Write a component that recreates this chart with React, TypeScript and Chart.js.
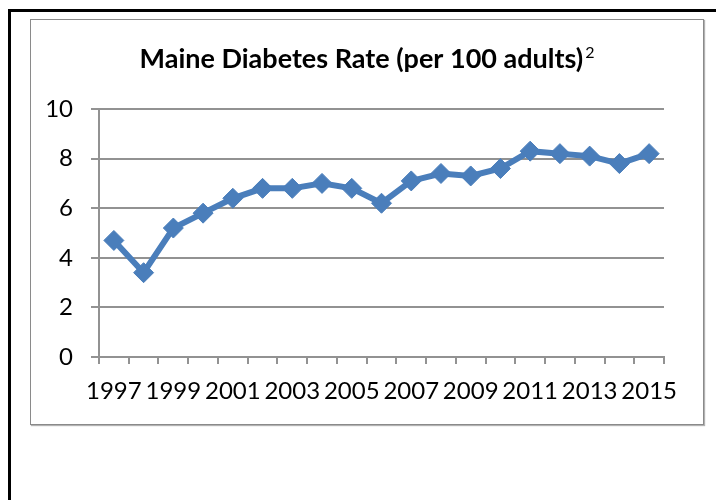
import React, { useEffect, useRef } from "react";
import { Chart, registerables } from "chart.js";

Chart.register(...registerables);

const years: string[] = [
  "1997", "1998", "1999", "2000", "2001", "2002", "2003", "2004", "2005", "2006",
  "2007", "2008", "2009", "2010", "2011", "2012", "2013", "2014", "2015",
];
const diabetesRate: number[] = [
  4.7, 3.4, 5.2, 5.8, 6.4, 6.8, 6.8, 7.0, 6.8, 6.2,
  7.1, 7.4, 7.3, 7.6, 8.3, 8.2, 8.1, 7.8, 8.2,
];
const titleText = "Maine Diabetes Rate (per 100 adults)";
const titleSup = "2";
const yMin = 0;
const yMax = 10;
const yStep = 2;

const FONT = "Lato, 'Open Sans', sans-serif";
const GRID = "#929292";
const BLUE = "#4a7ebb";

const titlePlugin = {
  id: "supTitle",
  afterDraw(chart: any) {
    const ctx = chart.ctx as CanvasRenderingContext2D;
    ctx.save();
    const mainFont = `bold 27px ${FONT}`;
    const supFont = `16px ${FONT}`;
    ctx.font = mainFont;
    const w1 = ctx.measureText(titleText).width;
    ctx.font = supFont;
    const w2 = ctx.measureText(titleSup).width;
    const gap = 2;
    const total = w1 + gap + w2;
    const cx = chart.width / 2;
    const x0 = cx - total / 2;
    const baseline = 48;
    ctx.fillStyle = "#000";
    ctx.textBaseline = "alphabetic";
    ctx.textAlign = "left";
    ctx.font = mainFont;
    ctx.fillText(titleText, x0, baseline);
    ctx.font = supFont;
    ctx.fillText(titleSup, x0 + w1 + gap, baseline - 10);
    ctx.restore();
  },
};

export default function App() {
  const canvasRef = useRef<HTMLCanvasElement | null>(null);

  useEffect(() => {
    if (!canvasRef.current) return;
    const chart = new Chart(canvasRef.current, {
      type: "line",
      data: {
        labels: years,
        datasets: [
          {
            label: "Diabetes rate",
            data: diabetesRate,
            borderColor: BLUE,
            backgroundColor: BLUE,
            borderWidth: 6,
            pointStyle: "rectRot",
            pointRadius: 10,
            pointBorderWidth: 1,
            pointBackgroundColor: BLUE,
            pointBorderColor: BLUE,
            tension: 0,
          },
        ],
      },
      options: {
        responsive: false,
        animation: false,
        layout: { padding: { top: 89, right: 39, left: 0, bottom: 0 } },
        plugins: {
          legend: { display: false },
          title: { display: false },
          tooltip: { enabled: false },
        },
        scales: {
          x: {
            type: "category",
            offset: true,
            grid: {
              offset: true,
              drawOnChartArea: false,
              drawTicks: true,
              tickLength: 7,
              color: GRID,
              lineWidth: 2,
            },
            border: { display: true, color: GRID, width: 2 },
            ticks: {
              autoSkip: false,
              maxRotation: 0,
              minRotation: 0,
              padding: 13,
              color: "#000",
              font: { family: FONT, size: 24 },
              callback: (_v: any, i: number) => (i % 2 === 0 ? years[i] : ""),
            },
            afterFit: (s: any) => {
              s.height = 67;
            },
          },
          y: {
            min: yMin,
            max: yMax,
            ticks: {
              stepSize: yStep,
              padding: 18,
              color: "#000",
              font: { family: FONT, size: 24 },
            },
            grid: {
              drawOnChartArea: true,
              drawTicks: true,
              tickLength: 8,
              color: GRID,
              lineWidth: 2,
            },
            border: { display: true, color: GRID, width: 2 },
            afterFit: (s: any) => {
              s.width = 68;
            },
          },
        },
      },
      plugins: [titlePlugin],
    });
    return () => chart.destroy();
  }, []);

  return (
    <div
      style={{
        position: "absolute",
        left: 0,
        top: 0,
        width: 716,
        height: 500,
        overflow: "hidden",
        background: "#fff",
      }}
    >
      <div
        style={{
          position: "absolute",
          left: 8,
          top: 9,
          width: 716,
          height: 500,
          borderLeft: "3px solid #000",
          borderTop: "3px solid #000",
        }}
      />
      <div
        style={{
          position: "absolute",
          left: 30,
          top: 19,
          width: 672,
          height: 404,
          border: "1px solid #8a8a8a",
          boxShadow: "1px 1px 1px rgba(0,0,0,0.3)",
          background: "#fff",
        }}
      >
        <canvas
          ref={canvasRef}
          width={672}
          height={404}
          style={{ display: "block", width: 672, height: 404 }}
        />
      </div>
    </div>
  );
}
